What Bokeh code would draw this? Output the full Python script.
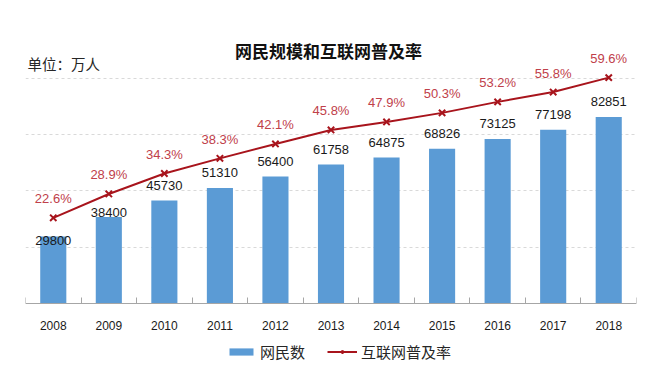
from bokeh.plotting import figure
from bokeh.models import (Range1d, FixedTicker, Label, Legend, LegendItem,
                          ColumnDataSource)
from bokeh.core.properties import value
from bokeh.embed import file_html
from bokeh.resources import INLINE

# ---- data ----
years = ["2008", "2009", "2010", "2011", "2012", "2013", "2014", "2015", "2016", "2017", "2018"]
users = [29800, 38400, 45730, 51310, 56400, 61758, 64875, 68826, 73125, 77198, 82851]
rates = [22.6, 28.9, 34.3, 38.3, 42.1, 45.8, 47.9, 50.3, 53.2, 55.8, 59.6]
title_text = "网民规模和互联网普及率"
unit_text = "单位：万人"
bar_name = "网民数"
line_name = "互联网普及率"

# label nudges (screen px above bar top), style only
bar_label_nudge = [-4.5, 4.5, 15.5, 15.5, 15.5, 15.5, 15.5, 15.5, 15.5, 15.5, 15.5]

W, H = 667, 368
base_px = 303          # baseline position from top of canvas
below_px = H - base_px
units_per_px = 444.4
rate_px_per_pct = 3.79
cat_px = 611 / len(years)

xs = list(range(len(years)))
src = ColumnDataSource(dict(
    x=xs, users=users, rates=rates,
    ulabel=[str(u) for u in users],
    rlabel=["%.1f%%" % r for r in rates],
    uoff=[-n for n in bar_label_nudge],
))

p = figure(width=W, height=H, output_backend="svg", toolbar_location=None,
           x_range=Range1d(-0.5, len(years) - 0.5),
           y_range=Range1d(-below_px * units_per_px, base_px * units_per_px),
           y_axis_location=None,
           min_border_left=25, min_border_right=31,
           min_border_top=0, min_border_bottom=0)
p.extra_y_ranges = {"rate": Range1d(-below_px / rate_px_per_pct, base_px / rate_px_per_pct)}
p.outline_line_color = None
p.background_fill_color = "white"
p.border_fill_color = "white"

# grid
p.xgrid.visible = False
p.ygrid.ticker = FixedTicker(ticks=[25000, 50000, 75000, 100000])
p.ygrid.grid_line_color = "#D9D9D9"
p.ygrid.grid_line_dash = "3 3"
p.ygrid.grid_line_width = 1

# axis
ax = p.xaxis[0]
ax.fixed_location = 0
ax.ticker = FixedTicker(ticks=xs, minor_ticks=[i - 0.5 for i in range(len(years) + 1)])
ax.major_label_overrides = {i: y for i, y in zip(xs, years)}
ax.major_tick_in = 0
ax.major_tick_out = 0
ax.minor_tick_in = 6
ax.minor_tick_out = 0
ax.minor_tick_line_color = "#A6A6A6"
ax.axis_line_color = "#A6A6A6"
ax.major_label_text_font = "Liberation Sans"
ax.major_label_text_font_size = "12px"
ax.major_label_text_color = "#1A1A1A"
ax.major_label_standoff = 17

# bars
bars = p.vbar(x="x", top="users", width=0.47, source=src,
              fill_color="#5B9BD5", line_color=None)
p.text(x="x", y="users", text="ulabel", y_offset="uoff", source=src,
       text_align="center", text_baseline="middle",
       text_font=value("Liberation Sans"), text_font_size="13px",
       text_color="#1A1A1A")

# rate line
line = p.line(x="x", y="rates", source=src, y_range_name="rate",
              line_color="#A8141C", line_width=2)
marks = p.scatter(x="x", y="rates", source=src, y_range_name="rate",
                  marker="x", size=9, line_color="#A8141C", line_width=2)
p.text(x="x", y="rates", text="rlabel", y_offset=-19, source=src,
       y_range_name="rate",
       text_align="center", text_baseline="middle",
       text_font=value("Liberation Sans"), text_font_size="13px",
       text_color="#C0404A")

# title and unit
p.add_layout(Label(x=-0.5 + 303 / cat_px, y=253 * units_per_px, text=title_text,
                   text_align="center", text_baseline="middle",
                   text_font="Noto Sans CJK SC", text_font_style="bold",
                   text_font_size="17px", text_color="#111111"))
p.add_layout(Label(x=-0.5 + 2 / cat_px, y=240 * units_per_px, text=unit_text,
                   text_align="left", text_baseline="middle",
                   text_font="Noto Sans CJK SC", text_font_size="14.5px",
                   text_color="#262626"))

legend = Legend(items=[LegendItem(label=bar_name, renderers=[bars]),
                       LegendItem(label=line_name, renderers=[line, marks])],
                location=(201, 6), orientation="horizontal",
                glyph_width=30, glyph_height=9, label_standoff=4, spacing=22,
                padding=0, margin=0, label_height=18,
                label_text_font="Noto Sans CJK SC", label_text_font_size="15px",
                label_text_color="#262626",
                background_fill_alpha=0, border_line_color=None)
p.add_layout(legend, "center")

open("out.html", "w").write(file_html(p, INLINE))
